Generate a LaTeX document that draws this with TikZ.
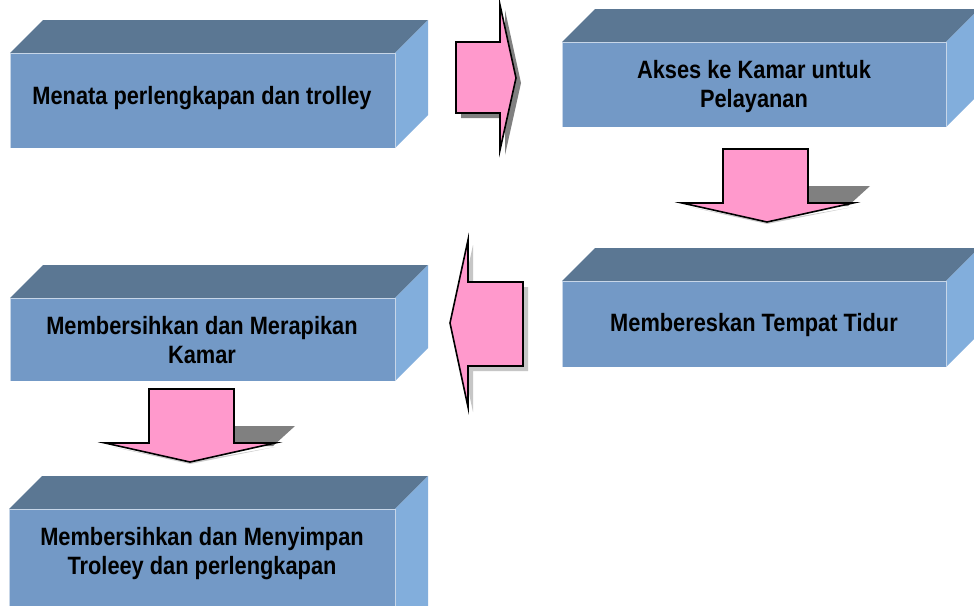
\documentclass[tikz,border=0pt]{standalone}
\usepackage{fontspec}
\setmainfont{Liberation Sans}
\definecolor{frontc}{HTML}{7399C6}
\definecolor{topc}{HTML}{5B7793}
\definecolor{sidec}{HTML}{82AEDC}
\definecolor{pinkc}{HTML}{FF99CC}
\definecolor{shadc}{HTML}{808080}
\newcommand\mycuboid[4]{% x1 ytop x2 ybot
  \fill[topc] (#1,#2) -- (#1+33,#2-33) -- (#3+33,#2-33) -- (#3,#2) -- cycle;
  \fill[sidec] (#3,#2) -- (#3+33,#2-33) -- (#3+33,#4-33) -- (#3,#4) -- cycle;
  \fill[frontc] (#1,#2) rectangle (#3,#4);
  \draw[white!60!frontc, line width=0.8pt] (#1,#4) -- (#1,#2) -- (#3,#2) -- (#3,#4);
}
\newcommand\tallText[1]{\scalebox{1}[1.15]{\begin{tabular}{@{}c@{}}#1\end{tabular}}}
\tikzset{
  lbl/.style={font=\bfseries\fontsize{21.8}{26}\selectfont, align=center, text=black, inner sep=0pt},
  blockarrow/.style={fill=pinkc, draw=black, line width=1.6pt, line join=miter},
  shad/.style={fill=shadc, draw=none}
}
\begin{document}
\begin{tikzpicture}[x=1pt,y=-1pt]
\useasboundingbox (0,0) rectangle (974,605);
\clip (0,0) rectangle (974,605);
\fill[white] (0,0) rectangle (974,605);
% boxes
\mycuboid{10}{53}{395}{148}
\mycuboid{562}{42}{946}{127}
\mycuboid{562}{281}{946}{367}
\mycuboid{10}{298}{395}{381}
\mycuboid{9}{509}{395}{640}
% labels
\node[lbl] (t1) at (202,99) {\tallText{Menata perlengkapan dan trolley}};
\node[lbl] (t2) at (754,87) {\tallText{Akses ke Kamar untuk\\Pelayanan}};
\node[lbl] (t3) at (754,326) {\tallText{Membereskan Tempat Tidur}};
\node[lbl] (t4) at (202,343) {\tallText{Membersihkan dan Merapikan\\Kamar}};
\node[lbl] (t5) at (202,554) {\tallText{Membersihkan dan Menyimpan\\Troleey dan perlengkapan}};
% arrow 1 (right)
\fill[shad] (461,47) -- (505,47) -- (505,10) -- (521,83) -- (505,155) -- (505,118) -- (461,118) -- cycle;
\draw[blockarrow] (456,42) -- (500,42) -- (500,5) -- (516,78) -- (500,150) -- (500,113) -- (456,113) -- cycle;
% arrow 2 (down, right column)
\fill[shad] (808,186) -- (870,186) -- (848,206) -- (808,206) -- cycle;
\fill[shadc!40] (690,207) -- (767,224) -- (853,207) -- (767,222) -- cycle;
\draw[blockarrow] (723,149) -- (808,149) -- (808,203) -- (853,203) -- (767,222) -- (682,203) -- (723,203) -- cycle;
% arrow 3 (left)
\fill[shadc!45] (473,245) -- (473,287) -- (528,287) -- (528,371) -- (473,371) -- (473,412) -- (455,328) -- cycle;
\draw[blockarrow] (468,240) -- (468,282) -- (523,282) -- (523,366) -- (468,366) -- (468,407) -- (450,323) -- cycle;
% arrow 4 (down, left column)
\fill[shad] (234,426) -- (295,426) -- (273,446) -- (234,446) -- cycle;
\fill[shadc!40] (113,447) -- (190,464) -- (275,447) -- (190,462) -- cycle;
\draw[blockarrow] (149,389) -- (234,389) -- (234,443) -- (275,443) -- (190,462) -- (105,443) -- (149,443) -- cycle;
\end{tikzpicture}
\end{document}
